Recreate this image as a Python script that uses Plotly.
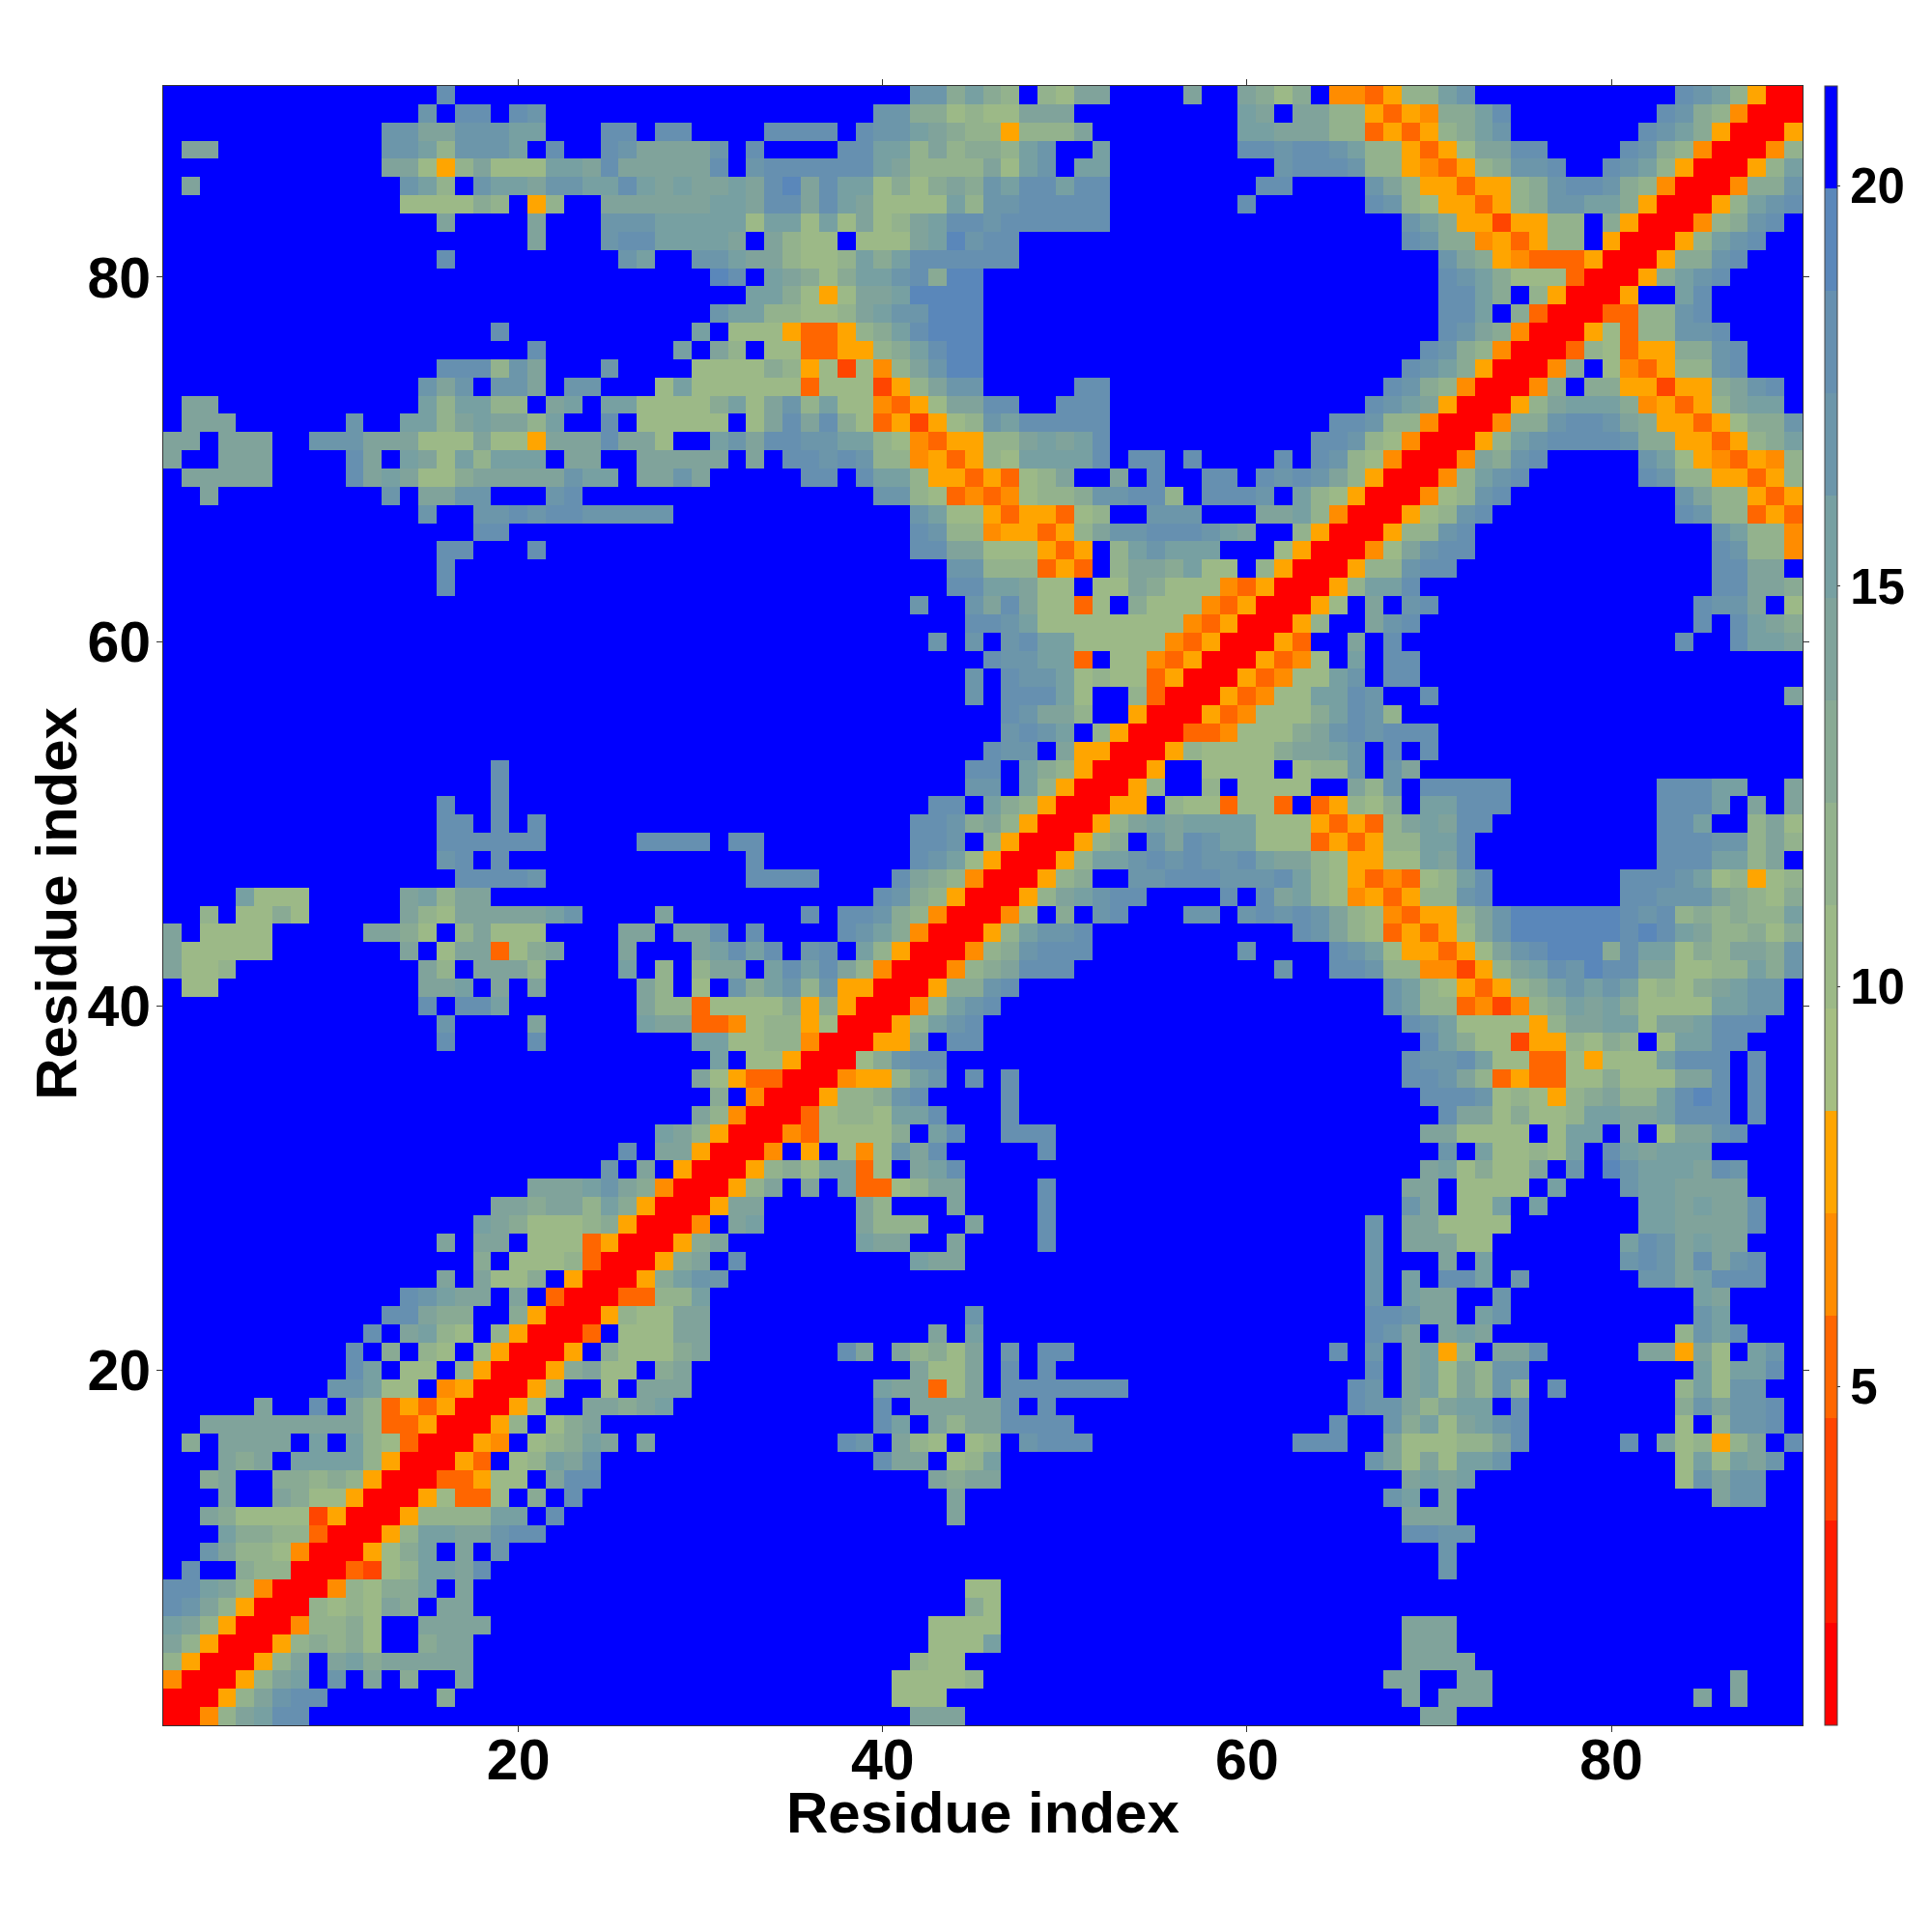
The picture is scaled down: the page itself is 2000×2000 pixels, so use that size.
import plotly.graph_objects as go

# Band index per cell: 0-9,a-e = colour band, '.' = blue (top band). Each block holds rows from high to low residue.
rows_x1_y90 = [
"...............d.......",
"..............c.dd.dc..",
"............ccaacccbb..",
".aa.........ccb8cccb.d.",
"............aa758a777bb",
".a...........cb8.cbbacc",
".............777798.58.",
"...............a....a..",
"....................a..",
"...............d.......",
"",
"",
"",
"..................d....",
"....................d..",
"...............ddd8ca..",
"..............cac.cca.c",
".aa...........b8bb88.ab",
".aaa......c..bb8abaa8b.",
"aa.aaa..cccaaa777a775aa",
"a..aaa....da.ba7b8bbb.a",
".aaaaa....daba779aaaaac",
"..a.........c.aacc...cd",
]
rows_x24_y90 = [
"..................cc9b",
"................cc9978",
".dd.dd....dddd.dccba98",
".dcaaaac.d....ddbb8a89",
"adaaaaad.cddddddba8888",
"bbdbabaabadeadbb7979a9",
".aaaaaabbaddadba7777b8",
".cccbbbbb7bb7b7a78abdd",
".cddbbbba.a877.777abec",
"..cb..ccbaa8778b9bdddd",
".......ed.ba979bbcd9ee",
".........bb9757aabeeee",
".......cbb88778abcceee",
"......b.777533589bdeee",
".....b.a8.77335589bdee",
".c....777798572748acee",
"c...7b7777773777258acc",
".bb77779b7ac8b774357aa",
".d.77777.7adad97352578",
"adaa7..bcaddccbb874355",
"a..aaaaa.a.ddcdc884535",
"bb.aaca.....dd.dbb8553",
"................cc8734",
]
rows_x46_y90 = [
"98.87aa....a..a979.4435",
"77aaa.........ba.aa8853",
"85888a........bbaaa8835",
"98bc..b.......ddcddcb88",
"a7bc.bb.........cdddc88",
"cbddbdd........dd....ca",
"ccddddd.......d......dc",
"cdddddd",
"dd",
"dd",
"",
"",
"",
"",
"",
"",
".....dd...............d",
"dd..ddd..............dc",
"cbddddd............ddc8",
"88ababd...........ddc87",
"87bbbbd.dd.d....d.dc874",
"5378a..a.d..dd.dcdca850",
"347889ccdd8.dddc.b87500",
]
rows_x69_y90 = [
"88bc...........dcb8500",
"5499bd........dc98400",
"3589bc.......dcb9500",
"5357aadd....dc98400",
"543589ccd..dcb8500",
"85535589cddc98400",
"87553589ccbb9500",
"cb95525588.9500",
"dc99453588.500",
"..ca954333500",
"..dcb9777300",
"..ddb9.8500",
"..ddb.9300",
"..dca9400",
".dc98400",
"dcb9500",
"c98400",
"ba500",
"8400",
"400",
"00",
"0",
]
rows_x1_y67 = [
"..............c..ccdcdd",
".................dd....",
"...............dd...d..",
"...............d.......",
"...............d.......",
"",
"",
"",
"",
"",
"",
"",
"",
"",
"..................d....",
"..................d....",
"...............d..d....",
"...............dd.d.d..",
"...............dddddd..",
"...............cd.d....",
"................ddddc..",
"....b777.....ab8aa.....",
]
rows_x24_y67 = [
"ccccc.............cb77",
"..................dc88",
"..................ddaa",
"....................cc",
"....................dd",
"..................c..c",
".....................d",
"...................c.c",
"",
".....................c",
".....................c",
"",
"",
"",
".....................d",
".....................c",
"...................dd.",
"..................ddc9",
"...dddd.dd........ddc.",
".........d........dcb7",
".........dddd....da984",
"................dc9850",
]
rows_x46_y67 = [
"5355378..ccc...aab84000",
"455358accdddcba..850005",
"777535.8bcbbb...7500048",
"888353.8aa9b77.8500058a",
"bba77.77a977743500058bc",
"ada7737.977743500058.a.",
"dcb7777777743500058..ac",
".cdbb7777743500053..a.d",
"dccbb3.774350005347.b.d",
".dccb78773500053477ac.c",
".dddb7..8300053477abdc.",
".dcaa8..5000534777abdc9",
".cdcb.85000334877abcddd",
"dcc.a55000587777abbcd.d",
"d.b9850005..7777.7aac.d",
"c.b8500058..8.7777..b8c",
"b98500055.7773773.35989",
"a8500058abbaabb77753539",
"8500058a.cacbbb77735359",
"500058abbccdcccbba77557",
"00058a..bcdddddcdc87534",
"00589bcdc....d.d9c88453",
]
rows_x1_y45 = [
"..8.7797.....a87aaaaabc",
"a.7777.....aa97.8a777..",
"a77777.......a.7aa379a.",
"a778..........a8.aaa8..",
".77...........aab.a.a..",
"..............d.ddb....",
"...............c....a..",
"...............d....d..",
"",
"",
"",
"",
"",
"",
"",
"....................aaa",
"..................aa9aa",
".................ba9777",
"...............a.aa.777",
".................9.7778",
"...............a.a779.5",
".............dcbaa.a.30",
"............dda99..9500",
]
rows_x24_y45 = [
"....a.......d.ddc98400",
"..aa.aad.d....dcb94000",
"..a...abdbd.cd.b850004",
"..b.8.8aa.bdbda8400048",
"...a8.7.c9bc8c55000599",
"...a8837777959500047ac",
"...baa3347885700057bcd",
"......bb7788400055a.dd",
".......b.77500079bcd..",
"......a75330004557bc.d",
".......9.40005778be...",
"......a8400037887bbd..",
"....ba850004377778.ad.",
"..d.aa50004.5.847b9c..",
".c.a.500058a8bb37.9bd.",
"bca9400058a.b.b3377bb.",
"8b950005aa.....b8...b.",
"8950004.ab.....b888..a",
"3500058a.......baa..a.",
"300058a.d.........aaa.",
"00058abc",
"003388a",
"05878cc",
]
rows_x1_y22 = [
"...........d.ab87.85000",
"..........d.9.87.750005",
"..........db.77.8500058",
".........ccb77.4500058.",
".....a..d.a8353500059..",
"..aaaaaaaaa833500058.8a",
".9.aaaa.b.b87300054.88a",
"...a9a.bbbb8500053.78bb",
"..9a..99898500033577.ad",
"...a..a977500058337.8.d",
"..a977772500058988bb.d.",
"...b9988300058bbaacee..",
"..ca887400058ac.a.c....",
".d..9880003289bbad.....",
"ddba84000487aab.a......",
"dca850007788ba.bb......",
"ba8500047787..aaab.....",
"a8500058a797..9aa......",
"8500",
"400",
"00",
"0",
]

tile_blocks = [
    (1, 90, rows_x1_y90), (24, 90, rows_x24_y90), (46, 90, rows_x46_y90), (69, 90, rows_x69_y90),
    (1, 67, rows_x1_y67), (24, 67, rows_x24_y67), (46, 67, rows_x46_y67),
    (1, 45, rows_x1_y45), (24, 45, rows_x24_y45),
    (1, 22, rows_x1_y22),
]

band_values = [1.4, 2.7, 4.0, 5.3, 6.6, 7.9, 9.1, 10.4, 11.7, 13.0, 14.3, 15.6, 16.8, 18.1, 19.4, 20.7]
band_colors = ["#ff0000", "#ff1c00", "#ff4500", "#ff6600", "#ff8c00", "#ffa500",
               "#a5be82", "#9cb987", "#93b28d", "#89aa94", "#80a39b", "#77a0a2",
               "#6c96aa", "#6690b0", "#5a87ba", "#0000ff"]
ticks = [20, 40, 60, 80]
bar_ticks = [5, 10, 15, 20]
residues = list(range(1, 91))
zmin, zmax = 0.77, 21.25
axis_title = "Residue index"

z = [[band_values[15]] * 90 for _ in range(90)]
for x0, ytop, block in tile_blocks:
    for r, text in enumerate(block):
        j = ytop - r
        for c, ch in enumerate(text):
            x = x0 + c
            if x <= j:
                v = band_values[15] if ch == "." else band_values[int(ch, 16)]
                z[j - 1][x - 1] = v
                z[x - 1][j - 1] = v

scale = []
for i, col in enumerate(band_colors):
    scale.append([i / 16, col])
    scale.append([(i + 1) / 16, col])

FONT = "Liberation Sans"
title_font = dict(family=FONT, size=60, color="black", weight="bold")
fig = go.Figure(go.Heatmap(
    x=residues, y=residues, z=z, zmin=zmin, zmax=zmax, colorscale=scale,
    hoverongaps=False,
    colorbar=dict(
        x=1.0136, xanchor="left", xpad=0, y=0.5, yanchor="middle", ypad=0,
        len=1, lenmode="fraction", thickness=13, thicknessmode="pixels",
        outlinewidth=1, outlinecolor="#444444",
        tickmode="array", tickvals=bar_ticks, ticks="outside", ticklen=3, tickwidth=1, tickcolor="#333333",
        tickfont=dict(family=FONT, size=51, color="black", weight="bold"),
    ),
))
axis = dict(
    range=[0.5, 90.5], tickmode="array", tickvals=ticks, ticks="outside", ticklen=6, tickwidth=1,
    tickcolor="#333333", showgrid=False, zeroline=False, mirror="ticks", showline=True,
    linecolor="#333333", linewidth=1,
    tickfont=dict(family=FONT, size=59, color="black", weight="bold"),
)
fig.update_layout(
    width=2000, height=2000, autosize=False,
    margin=dict(l=161, r=142, t=81, b=222, autoexpand=False),
    paper_bgcolor="white", plot_bgcolor="white",
    xaxis=dict(axis, ticklabelstandoff=-22),
    yaxis=dict(axis, ticklabelstandoff=-6),
    annotations=[
        dict(text=axis_title, xref="paper", yref="paper", x=0.5, y=-0.0536, xanchor="center", yanchor="middle",
             showarrow=False, font=title_font),
        dict(text=axis_title, xref="paper", yref="paper", x=-0.0648, y=0.501, xanchor="center", yanchor="middle",
             textangle=-90, showarrow=False, font=title_font),
    ],
)
fig.write_html("out.html")
